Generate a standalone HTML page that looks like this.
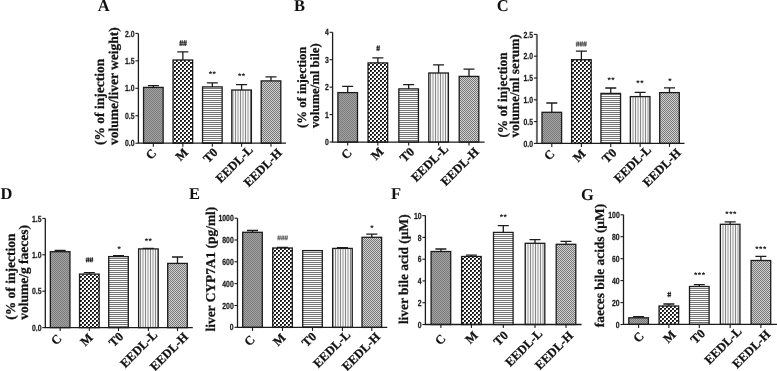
<!DOCTYPE html>
<html><head><meta charset="utf-8"><style>
html,body{margin:0;padding:0;background:#fff;width:777px;height:371px;overflow:hidden}
svg{display:block;filter:grayscale(1) blur(0.35px)}
text{text-rendering:geometricPrecision}
.let{font-family:"Liberation Serif", serif;font-weight:bold;font-size:16.5px;fill:#111}
.tk{font-family:"Liberation Sans", sans-serif;font-weight:bold;font-size:8.8px;fill:#1a1a1a;stroke:#1a1a1a;stroke-width:0.25px;text-anchor:end}
.an{font-family:"Liberation Sans", sans-serif;font-weight:bold;text-anchor:middle}
.hs{font-size:8.5px;stroke-width:0.3px}
.st{font-size:8.5px;letter-spacing:0.6px}
.xl{font-family:"Liberation Serif", serif;font-weight:bold;font-size:12.5px;fill:#111;stroke:#111;stroke-width:0.25px;text-anchor:end}
.yl{font-family:"Liberation Serif", serif;font-weight:bold;fill:#111;stroke:#111;stroke-width:0.25px}

</style></head><body>
<svg width="777" height="371" viewBox="0 0 777 371">
<defs>
<pattern id="pC" width="2" height="2" patternUnits="userSpaceOnUse"><rect width="2" height="2" fill="#a4a4a4"/><rect width="1" height="1" fill="#7a7a7a"/><rect x="1" y="1" width="1" height="1" fill="#7a7a7a"/></pattern>
<pattern id="pM" width="4" height="4" patternUnits="userSpaceOnUse"><rect width="4" height="4" fill="#fff"/><rect width="2" height="2" fill="#1a1a1a"/><rect x="2" y="2" width="2" height="2" fill="#1a1a1a"/><rect x="1" y="1" width="1" height="1" fill="#555"/><rect x="3" y="3" width="1" height="1" fill="#555"/></pattern>
<pattern id="pT" width="2" height="2" patternUnits="userSpaceOnUse"><rect width="2" height="2" fill="#fcfcfc"/><rect width="2" height="1" fill="#767676"/></pattern>
<pattern id="pL" width="5" height="2" patternUnits="userSpaceOnUse"><rect width="5" height="2" fill="#f4f4f4"/><rect width="1" height="2" fill="#888"/><rect x="2.5" width="1" height="2" fill="#989898"/></pattern>
<pattern id="pH" width="2" height="2" patternUnits="userSpaceOnUse"><rect width="2" height="2" fill="#d2d2d2"/><rect width="1" height="1" fill="#777"/><rect x="1" y="1" width="1" height="1" fill="#777"/></pattern>
</defs>

<text x="97.7" y="11.2" class="let">A</text>
<g class="bars"><rect x="143.55" y="87.4" width="19.6" height="55.8" fill="url(#pC)" stroke="#1c1c1c" stroke-width="1.3"/><path d="M153.35 87.4V85.7M147.85 85.7H158.85" stroke="#1c1c1c" stroke-width="1.3" fill="none"/><path d="M153.35 143.2V146.7" stroke="#1c1c1c" stroke-width="1.1"/><rect x="173.05" y="60" width="19.6" height="83.2" fill="url(#pM)" stroke="#1c1c1c" stroke-width="1.3"/><path d="M182.85 60V51.9M177.35 51.9H188.35" stroke="#1c1c1c" stroke-width="1.3" fill="none"/><path d="M182.85 143.2V146.7" stroke="#1c1c1c" stroke-width="1.1"/><rect x="202.55" y="86.9" width="19.6" height="56.3" fill="url(#pT)" stroke="#1c1c1c" stroke-width="1.3"/><path d="M212.35 86.9V82.9M206.85 82.9H217.85" stroke="#1c1c1c" stroke-width="1.3" fill="none"/><path d="M212.35 143.2V146.7" stroke="#1c1c1c" stroke-width="1.1"/><rect x="231.8" y="90" width="19.6" height="53.2" fill="url(#pL)" stroke="#1c1c1c" stroke-width="1.3"/><path d="M241.6 90V84.7M236.1 84.7H247.1" stroke="#1c1c1c" stroke-width="1.3" fill="none"/><path d="M241.6 143.2V146.7" stroke="#1c1c1c" stroke-width="1.1"/><rect x="261.2" y="80.9" width="19.6" height="62.3" fill="url(#pH)" stroke="#1c1c1c" stroke-width="1.3"/><path d="M271 80.9V76.8M265.5 76.8H276.5" stroke="#1c1c1c" stroke-width="1.3" fill="none"/><path d="M271 143.2V146.7" stroke="#1c1c1c" stroke-width="1.1"/><path d="M138.4 33.4V143.2H286" stroke="#1c1c1c" stroke-width="1.3" fill="none"/><path d="M135.4 33.4H138.4" stroke="#1c1c1c" stroke-width="1.1"/><path d="M135.4 60.85H138.4" stroke="#1c1c1c" stroke-width="1.1"/><path d="M135.4 88.3H138.4" stroke="#1c1c1c" stroke-width="1.1"/><path d="M135.4 115.75H138.4" stroke="#1c1c1c" stroke-width="1.1"/><path d="M135.4 143.2H138.4" stroke="#1c1c1c" stroke-width="1.1"/></g>
<g class="tkg"><text class="tk" transform="translate(134.6 36.55) scale(0.78 1)">2.0</text><text class="tk" transform="translate(134.6 64) scale(0.78 1)">1.5</text><text class="tk" transform="translate(134.6 91.45) scale(0.78 1)">1.0</text><text class="tk" transform="translate(134.6 118.9) scale(0.78 1)">0.5</text><text class="tk" transform="translate(134.6 146.35) scale(0.78 1)">0.0</text></g>
<g class="ang"><path class="hsp" d="M179.25 42.16H186.85M179.25 44.19H186.85M180.69 40.25L180.09 46.05M182.36 40.25L181.76 46.05M184.49 40.25L183.89 46.05M186.16 40.25L185.56 46.05" stroke="#1c1c1c" stroke-width="0.9" fill="none"/><text class="an st" fill="#1c1c1c" transform="translate(212.6 77.4) scale(1.0 1)">**</text><text class="an st" fill="#1c1c1c" transform="translate(241.8 78.9) scale(1.0 1)">**</text></g>
<text class="xl xC" transform="translate(157.1 153.9) rotate(-45)">C</text>
<text class="xl xM" transform="translate(188.9 153.1) rotate(-45)">M</text>
<text class="xl xT" transform="translate(218.5 153.1) rotate(-45)">T0</text>
<text class="xl xL" transform="translate(253.7 150.7) rotate(-45)">EEDL-L</text>
<text class="xl xH" transform="translate(282.7 153.7) rotate(-45)">EEDL-H</text>
<text class="yl" style="font-size:13.5px" transform="translate(104.4 145) rotate(-90)">(% of injection</text>
<text class="yl" style="font-size:13.5px" transform="translate(117.7 145) rotate(-90)">volume/liver weight)</text>
<text x="293.9" y="11.2" class="let">B</text>
<g class="bars"><rect x="337.9" y="92.6" width="19.6" height="49.5" fill="url(#pC)" stroke="#1c1c1c" stroke-width="1.3"/><path d="M347.7 92.6V86.4M342.2 86.4H353.2" stroke="#1c1c1c" stroke-width="1.3" fill="none"/><path d="M347.7 142.1V145.6" stroke="#1c1c1c" stroke-width="1.1"/><rect x="368.05" y="62.9" width="19.6" height="79.2" fill="url(#pM)" stroke="#1c1c1c" stroke-width="1.3"/><path d="M377.85 62.9V57.9M372.35 57.9H383.35" stroke="#1c1c1c" stroke-width="1.3" fill="none"/><path d="M377.85 142.1V145.6" stroke="#1c1c1c" stroke-width="1.1"/><rect x="398.85" y="88.9" width="19.6" height="53.2" fill="url(#pT)" stroke="#1c1c1c" stroke-width="1.3"/><path d="M408.65 88.9V84.6M403.15 84.6H414.15" stroke="#1c1c1c" stroke-width="1.3" fill="none"/><path d="M408.65 142.1V145.6" stroke="#1c1c1c" stroke-width="1.1"/><rect x="428.8" y="73" width="19.6" height="69.1" fill="url(#pL)" stroke="#1c1c1c" stroke-width="1.3"/><path d="M438.6 73V64.9M433.1 64.9H444.1" stroke="#1c1c1c" stroke-width="1.3" fill="none"/><path d="M438.6 142.1V145.6" stroke="#1c1c1c" stroke-width="1.1"/><rect x="459.2" y="76.4" width="19.6" height="65.7" fill="url(#pH)" stroke="#1c1c1c" stroke-width="1.3"/><path d="M469 76.4V69.1M463.5 69.1H474.5" stroke="#1c1c1c" stroke-width="1.3" fill="none"/><path d="M469 142.1V145.6" stroke="#1c1c1c" stroke-width="1.1"/><path d="M332.6 32.3V142.1H484.6" stroke="#1c1c1c" stroke-width="1.3" fill="none"/><path d="M329.6 32.3H332.6" stroke="#1c1c1c" stroke-width="1.1"/><path d="M329.6 59.7H332.6" stroke="#1c1c1c" stroke-width="1.1"/><path d="M329.6 87.15H332.6" stroke="#1c1c1c" stroke-width="1.1"/><path d="M329.6 114.6H332.6" stroke="#1c1c1c" stroke-width="1.1"/><path d="M329.6 142H332.6" stroke="#1c1c1c" stroke-width="1.1"/></g>
<g class="tkg"><text class="tk" transform="translate(328.8 35.45) scale(0.78 1)">4</text><text class="tk" transform="translate(328.8 62.85) scale(0.78 1)">3</text><text class="tk" transform="translate(328.8 90.3) scale(0.78 1)">2</text><text class="tk" transform="translate(328.8 117.75) scale(0.78 1)">1</text><text class="tk" transform="translate(328.8 145.15) scale(0.78 1)">0</text></g>
<g class="ang"><path class="hsp" d="M376.25 47.23H379.95M376.25 49.23H379.95M377.66 45.35L377.06 51.05M379.29 45.35L378.69 51.05" stroke="#1c1c1c" stroke-width="0.9" fill="none"/></g>
<text class="xl xC" transform="translate(352.7 153.5) rotate(-45)">C</text>
<text class="xl xM" transform="translate(384.3 152.5) rotate(-45)">M</text>
<text class="xl xT" transform="translate(415.1 152.5) rotate(-45)">T0</text>
<text class="xl xL" transform="translate(449.1 149.5) rotate(-45)">EEDL-L</text>
<text class="xl xH" transform="translate(479.7 152.5) rotate(-45)">EEDL-H</text>
<text class="yl" style="font-size:12.75px" transform="translate(306 128) rotate(-90)">(% of injection</text>
<text class="yl" style="font-size:12.75px" transform="translate(318.5 128) rotate(-90)">volume/ml bile)</text>
<text x="496.8" y="11.2" class="let">C</text>
<g class="bars"><rect x="542" y="112.3" width="19.6" height="31.1" fill="url(#pC)" stroke="#1c1c1c" stroke-width="1.3"/><path d="M551.8 112.3V103M546.3 103H557.3" stroke="#1c1c1c" stroke-width="1.3" fill="none"/><path d="M551.8 143.4V146.9" stroke="#1c1c1c" stroke-width="1.1"/><rect x="571.6" y="59.7" width="19.6" height="83.7" fill="url(#pM)" stroke="#1c1c1c" stroke-width="1.3"/><path d="M581.4 59.7V51.1M575.9 51.1H586.9" stroke="#1c1c1c" stroke-width="1.3" fill="none"/><path d="M581.4 143.4V146.9" stroke="#1c1c1c" stroke-width="1.1"/><rect x="600.95" y="93.4" width="19.6" height="50" fill="url(#pT)" stroke="#1c1c1c" stroke-width="1.3"/><path d="M610.75 93.4V88M605.25 88H616.25" stroke="#1c1c1c" stroke-width="1.3" fill="none"/><path d="M610.75 143.4V146.9" stroke="#1c1c1c" stroke-width="1.1"/><rect x="630.35" y="96.6" width="19.6" height="46.8" fill="url(#pL)" stroke="#1c1c1c" stroke-width="1.3"/><path d="M640.15 96.6V92.3M634.65 92.3H645.65" stroke="#1c1c1c" stroke-width="1.3" fill="none"/><path d="M640.15 143.4V146.9" stroke="#1c1c1c" stroke-width="1.1"/><rect x="659.7" y="92.6" width="19.6" height="50.8" fill="url(#pH)" stroke="#1c1c1c" stroke-width="1.3"/><path d="M669.5 92.6V87.9M664 87.9H675" stroke="#1c1c1c" stroke-width="1.3" fill="none"/><path d="M669.5 143.4V146.9" stroke="#1c1c1c" stroke-width="1.1"/><path d="M536.9 34.4V143.4" stroke="#666" stroke-width="2.0" fill="none"/><path d="M536.4 143.4H684.5" stroke="#1c1c1c" stroke-width="1.3" fill="none"/><path d="M533.9 34.4H536.9" stroke="#1c1c1c" stroke-width="1.1"/><path d="M533.9 56.2H536.9" stroke="#1c1c1c" stroke-width="1.1"/><path d="M533.9 78H536.9" stroke="#1c1c1c" stroke-width="1.1"/><path d="M533.9 99.8H536.9" stroke="#1c1c1c" stroke-width="1.1"/><path d="M533.9 121.6H536.9" stroke="#1c1c1c" stroke-width="1.1"/><path d="M533.9 143.4H536.9" stroke="#1c1c1c" stroke-width="1.1"/></g>
<g class="tkg"><text class="tk" transform="translate(533.1 37.55) scale(0.78 1)">2.5</text><text class="tk" transform="translate(533.1 59.35) scale(0.78 1)">2.0</text><text class="tk" transform="translate(533.1 81.15) scale(0.78 1)">1.5</text><text class="tk" transform="translate(533.1 102.95) scale(0.78 1)">1.0</text><text class="tk" transform="translate(533.1 124.75) scale(0.78 1)">0.5</text><text class="tk" transform="translate(533.1 146.55) scale(0.78 1)">0.0</text></g>
<g class="ang"><path class="hsp" d="M575.75 43.13H586.75M575.75 44.92H586.75M577.15 41.45L576.55 46.55M578.76 41.45L578.16 46.55M580.82 41.45L580.22 46.55M582.43 41.45L581.83 46.55M584.48 41.45L583.88 46.55M586.1 41.45L585.5 46.55" stroke="#444" stroke-width="0.9" fill="none"/><text class="an st" fill="#1c1c1c" transform="translate(611.3 83.1) scale(1.0 1)">**</text><text class="an st" fill="#1c1c1c" transform="translate(640.25 85.9) scale(1.0 1)">**</text><text class="an st" fill="#1c1c1c" transform="translate(670.1 83.5) scale(1.0 1)">*</text></g>
<text class="xl xC" transform="translate(555.5 154.5) rotate(-45)">C</text>
<text class="xl xM" transform="translate(586.3 154.5) rotate(-45)">M</text>
<text class="xl xT" transform="translate(617.3 153.5) rotate(-45)">T0</text>
<text class="xl xL" transform="translate(651.9 150.5) rotate(-45)">EEDL-L</text>
<text class="xl xH" transform="translate(681.7 153.5) rotate(-45)">EEDL-H</text>
<text class="yl" style="font-size:13.35px" transform="translate(507.1 137.6) rotate(-90)">(% of injection</text>
<text class="yl" style="font-size:13.35px" transform="translate(519.3 137.6) rotate(-90)">volume/ml serum)</text>
<text x="0.5" y="199.1" class="let">D</text>
<g class="bars"><rect x="50.35" y="251.7" width="19.6" height="75.9" fill="url(#pC)" stroke="#1c1c1c" stroke-width="1.3"/><path d="M60.15 251.7V250.5M54.65 250.5H65.65" stroke="#1c1c1c" stroke-width="1.3" fill="none"/><path d="M60.15 327.6V331.1" stroke="#1c1c1c" stroke-width="1.1"/><rect x="79.55" y="274.1" width="19.6" height="53.5" fill="url(#pM)" stroke="#1c1c1c" stroke-width="1.3"/><path d="M89.35 274.1V272.7M83.85 272.7H94.85" stroke="#1c1c1c" stroke-width="1.3" fill="none"/><path d="M89.35 327.6V331.1" stroke="#1c1c1c" stroke-width="1.1"/><rect x="108.7" y="256.6" width="19.6" height="71" fill="url(#pT)" stroke="#1c1c1c" stroke-width="1.3"/><path d="M118.5 256.6V255.6M113 255.6H124" stroke="#1c1c1c" stroke-width="1.3" fill="none"/><path d="M118.5 327.6V331.1" stroke="#1c1c1c" stroke-width="1.1"/><rect x="138.6" y="248.9" width="19.6" height="78.7" fill="url(#pL)" stroke="#1c1c1c" stroke-width="1.3"/><path d="M148.4 248.9V248.4M142.9 248.4H153.9" stroke="#1c1c1c" stroke-width="1.3" fill="none"/><path d="M148.4 327.6V331.1" stroke="#1c1c1c" stroke-width="1.1"/><rect x="167.7" y="263.4" width="19.6" height="64.2" fill="url(#pH)" stroke="#1c1c1c" stroke-width="1.3"/><path d="M177.5 263.4V257M172 257H183" stroke="#1c1c1c" stroke-width="1.3" fill="none"/><path d="M177.5 327.6V331.1" stroke="#1c1c1c" stroke-width="1.1"/><path d="M45.3 218.4V327.6H192.8" stroke="#1c1c1c" stroke-width="1.3" fill="none"/><path d="M42.3 218.4H45.3" stroke="#1c1c1c" stroke-width="1.1"/><path d="M42.3 254.8H45.3" stroke="#1c1c1c" stroke-width="1.1"/><path d="M42.3 291.2H45.3" stroke="#1c1c1c" stroke-width="1.1"/><path d="M42.3 327.6H45.3" stroke="#1c1c1c" stroke-width="1.1"/></g>
<g class="tkg"><text class="tk" transform="translate(41.5 221.55) scale(0.78 1)">1.5</text><text class="tk" transform="translate(41.5 257.95) scale(0.78 1)">1.0</text><text class="tk" transform="translate(41.5 294.35) scale(0.78 1)">0.5</text><text class="tk" transform="translate(41.5 330.75) scale(0.78 1)">0.0</text></g>
<g class="ang"><path class="hsp" d="M85.65 259H93.25M85.65 260.75H93.25M87.09 257.35L86.49 262.35M88.76 257.35L88.16 262.35M90.89 257.35L90.29 262.35M92.56 257.35L91.96 262.35" stroke="#1c1c1c" stroke-width="0.9" fill="none"/><text class="an st" fill="#1c1c1c" transform="translate(119.45 251.7) scale(1.0 1)">*</text><text class="an st" fill="#1c1c1c" transform="translate(148.6 244) scale(1.0 1)">**</text></g>
<text class="xl xC" transform="translate(62.3 339.3) rotate(-45)">C</text>
<text class="xl xM" transform="translate(93.5 338.3) rotate(-45)">M</text>
<text class="xl xT" transform="translate(124.1 337.3) rotate(-45)">T0</text>
<text class="xl xL" transform="translate(158.1 335.5) rotate(-45)">EEDL-L</text>
<text class="xl xH" transform="translate(188.9 337.5) rotate(-45)">EEDL-H</text>
<text class="yl" style="font-size:13.5px" transform="translate(14.7 319.8) rotate(-90)">(% of injection</text>
<text class="yl" style="font-size:13.5px" transform="translate(27.8 319.8) rotate(-90)">volume/g faeces)</text>
<text x="189" y="199.1" class="let">E</text>
<g class="bars"><rect x="242.7" y="232.3" width="19.6" height="95.1" fill="url(#pC)" stroke="#1c1c1c" stroke-width="1.3"/><path d="M252.5 232.3V230.5M247 230.5H258" stroke="#1c1c1c" stroke-width="1.3" fill="none"/><path d="M252.5 327.4V330.9" stroke="#1c1c1c" stroke-width="1.1"/><rect x="272.7" y="248" width="19.6" height="79.4" fill="url(#pM)" stroke="#1c1c1c" stroke-width="1.3"/><path d="M282.5 248V247.3M277 247.3H288" stroke="#1c1c1c" stroke-width="1.3" fill="none"/><path d="M282.5 327.4V330.9" stroke="#1c1c1c" stroke-width="1.1"/><rect x="302.7" y="250.6" width="19.6" height="76.8" fill="url(#pT)" stroke="#1c1c1c" stroke-width="1.3"/><path d="M312.5 327.4V330.9" stroke="#1c1c1c" stroke-width="1.1"/><rect x="332.65" y="248.4" width="19.6" height="79" fill="url(#pL)" stroke="#1c1c1c" stroke-width="1.3"/><path d="M342.45 248.4V247.6M336.95 247.6H347.95" stroke="#1c1c1c" stroke-width="1.3" fill="none"/><path d="M342.45 327.4V330.9" stroke="#1c1c1c" stroke-width="1.1"/><rect x="362" y="237.3" width="19.6" height="90.1" fill="url(#pH)" stroke="#1c1c1c" stroke-width="1.3"/><path d="M371.8 237.3V234.1M366.3 234.1H377.3" stroke="#1c1c1c" stroke-width="1.3" fill="none"/><path d="M371.8 327.4V330.9" stroke="#1c1c1c" stroke-width="1.1"/><path d="M237.5 218.3V327.4H387.3" stroke="#1c1c1c" stroke-width="1.3" fill="none"/><path d="M234.5 218.2H237.5" stroke="#1c1c1c" stroke-width="1.1"/><path d="M234.5 240H237.5" stroke="#1c1c1c" stroke-width="1.1"/><path d="M234.5 261.8H237.5" stroke="#1c1c1c" stroke-width="1.1"/><path d="M234.5 283.6H237.5" stroke="#1c1c1c" stroke-width="1.1"/><path d="M234.5 305.5H237.5" stroke="#1c1c1c" stroke-width="1.1"/><path d="M234.5 327.3H237.5" stroke="#1c1c1c" stroke-width="1.1"/></g>
<g class="tkg"><text class="tk" transform="translate(233.7 221.35) scale(0.78 1)">1000</text><text class="tk" transform="translate(233.7 243.15) scale(0.78 1)">800</text><text class="tk" transform="translate(233.7 264.95) scale(0.78 1)">600</text><text class="tk" transform="translate(233.7 286.75) scale(0.78 1)">400</text><text class="tk" transform="translate(233.7 308.65) scale(0.78 1)">200</text><text class="tk" transform="translate(233.7 330.45) scale(0.78 1)">0</text></g>
<g class="ang"><path class="hsp" d="M277.25 237.03H287.95M277.25 238.71H287.95M278.62 235.45L278.02 240.25M280.19 235.45L279.59 240.25M282.19 235.45L281.59 240.25M283.76 235.45L283.16 240.25M285.75 235.45L285.15 240.25M287.32 235.45L286.72 240.25" stroke="#666" stroke-width="0.9" fill="none"/><text class="an st" fill="#1c1c1c" transform="translate(372.2 230.9) scale(1.0 1)">*</text></g>
<text class="xl xC" transform="translate(255.7 340.3) rotate(-45)">C</text>
<text class="xl xM" transform="translate(286.3 338.3) rotate(-45)">M</text>
<text class="xl xT" transform="translate(317.1 337.3) rotate(-45)">T0</text>
<text class="xl xL" transform="translate(351.1 335.5) rotate(-45)">EEDL-L</text>
<text class="xl xH" transform="translate(380.9 337.5) rotate(-45)">EEDL-H</text>
<text class="yl" style="font-size:13.4px" transform="translate(214.7 331.5) rotate(-90)">liver CYP7A1 (pg/ml)</text>
<text x="391.1" y="199.3" class="let">F</text>
<g class="bars"><rect x="431.1" y="251.5" width="19.6" height="73" fill="url(#pC)" stroke="#1c1c1c" stroke-width="1.3"/><path d="M440.9 251.5V249M435.4 249H446.4" stroke="#1c1c1c" stroke-width="1.3" fill="none"/><path d="M440.9 324.5V328" stroke="#1c1c1c" stroke-width="1.1"/><rect x="461.6" y="256.5" width="19.6" height="68" fill="url(#pM)" stroke="#1c1c1c" stroke-width="1.3"/><path d="M471.4 256.5V255.1M465.9 255.1H476.9" stroke="#1c1c1c" stroke-width="1.3" fill="none"/><path d="M471.4 324.5V328" stroke="#1c1c1c" stroke-width="1.1"/><rect x="493.5" y="232.4" width="19.6" height="92.1" fill="url(#pT)" stroke="#1c1c1c" stroke-width="1.3"/><path d="M503.3 232.4V225.7M497.8 225.7H508.8" stroke="#1c1c1c" stroke-width="1.3" fill="none"/><path d="M503.3 324.5V328" stroke="#1c1c1c" stroke-width="1.1"/><rect x="525.2" y="243.3" width="19.6" height="81.2" fill="url(#pL)" stroke="#1c1c1c" stroke-width="1.3"/><path d="M535 243.3V239.6M529.5 239.6H540.5" stroke="#1c1c1c" stroke-width="1.3" fill="none"/><path d="M535 324.5V328" stroke="#1c1c1c" stroke-width="1.1"/><rect x="556.2" y="244.3" width="19.6" height="80.2" fill="url(#pH)" stroke="#1c1c1c" stroke-width="1.3"/><path d="M566 244.3V241.4M560.5 241.4H571.5" stroke="#1c1c1c" stroke-width="1.3" fill="none"/><path d="M566 324.5V328" stroke="#1c1c1c" stroke-width="1.1"/><path d="M425.4 215.6V324.5H581.6" stroke="#1c1c1c" stroke-width="1.3" fill="none"/><path d="M422.4 215.6H425.4" stroke="#1c1c1c" stroke-width="1.1"/><path d="M422.4 237.4H425.4" stroke="#1c1c1c" stroke-width="1.1"/><path d="M422.4 259.2H425.4" stroke="#1c1c1c" stroke-width="1.1"/><path d="M422.4 280.9H425.4" stroke="#1c1c1c" stroke-width="1.1"/><path d="M422.4 302.7H425.4" stroke="#1c1c1c" stroke-width="1.1"/><path d="M422.4 324.5H425.4" stroke="#1c1c1c" stroke-width="1.1"/></g>
<g class="tkg"><text class="tk" transform="translate(421.6 218.75) scale(0.78 1)">10</text><text class="tk" transform="translate(421.6 240.55) scale(0.78 1)">8</text><text class="tk" transform="translate(421.6 262.35) scale(0.78 1)">6</text><text class="tk" transform="translate(421.6 284.05) scale(0.78 1)">4</text><text class="tk" transform="translate(421.6 305.85) scale(0.78 1)">2</text><text class="tk" transform="translate(421.6 327.65) scale(0.78 1)">0</text></g>
<g class="ang"><text class="an st" fill="#1c1c1c" transform="translate(503.6 220) scale(1.0 1)">**</text></g>
<text class="xl xC" transform="translate(446.3 339.3) rotate(-45)">C</text>
<text class="xl xM" transform="translate(478.5 336.1) rotate(-45)">M</text>
<text class="xl xT" transform="translate(508.9 336.1) rotate(-45)">T0</text>
<text class="xl xL" transform="translate(543.1 334.3) rotate(-45)">EEDL-L</text>
<text class="xl xH" transform="translate(573.9 336.3) rotate(-45)">EEDL-H</text>
<text class="yl" style="font-size:13.4px" transform="translate(408.3 324.1) rotate(-90)">liver bile acid (µM)</text>
<text x="581" y="199.5" class="let">G</text>
<g class="bars"><rect x="628.8" y="317.8" width="19.6" height="6.6" fill="url(#pC)" stroke="#1c1c1c" stroke-width="1.3"/><path d="M638.6 317.8V316.6M633.1 316.6H644.1" stroke="#1c1c1c" stroke-width="1.3" fill="none"/><path d="M638.6 324.4V327.9" stroke="#1c1c1c" stroke-width="1.1"/><rect x="659.05" y="306" width="19.6" height="18.4" fill="url(#pM)" stroke="#1c1c1c" stroke-width="1.3"/><path d="M668.85 306V304M663.35 304H674.35" stroke="#1c1c1c" stroke-width="1.3" fill="none"/><path d="M668.85 324.4V327.9" stroke="#1c1c1c" stroke-width="1.1"/><rect x="689.5" y="286.5" width="19.6" height="37.9" fill="url(#pT)" stroke="#1c1c1c" stroke-width="1.3"/><path d="M699.3 286.5V284.6M693.8 284.6H704.8" stroke="#1c1c1c" stroke-width="1.3" fill="none"/><path d="M699.3 324.4V327.9" stroke="#1c1c1c" stroke-width="1.1"/><rect x="720.35" y="224.3" width="19.6" height="100.1" fill="url(#pL)" stroke="#1c1c1c" stroke-width="1.3"/><path d="M730.15 224.3V221.9M724.65 221.9H735.65" stroke="#1c1c1c" stroke-width="1.3" fill="none"/><path d="M730.15 324.4V327.9" stroke="#1c1c1c" stroke-width="1.1"/><rect x="751.1" y="260.5" width="19.6" height="63.9" fill="url(#pH)" stroke="#1c1c1c" stroke-width="1.3"/><path d="M760.9 260.5V256.3M755.4 256.3H766.4" stroke="#1c1c1c" stroke-width="1.3" fill="none"/><path d="M760.9 324.4V327.9" stroke="#1c1c1c" stroke-width="1.1"/><path d="M623.5 214.8V324.4H777.5" stroke="#1c1c1c" stroke-width="1.3" fill="none"/><path d="M620.5 214.8H623.5" stroke="#1c1c1c" stroke-width="1.1"/><path d="M620.5 236.7H623.5" stroke="#1c1c1c" stroke-width="1.1"/><path d="M620.5 258.7H623.5" stroke="#1c1c1c" stroke-width="1.1"/><path d="M620.5 280.6H623.5" stroke="#1c1c1c" stroke-width="1.1"/><path d="M620.5 302.6H623.5" stroke="#1c1c1c" stroke-width="1.1"/><path d="M620.5 324.5H623.5" stroke="#1c1c1c" stroke-width="1.1"/></g>
<g class="tkg"><text class="tk" transform="translate(619.7 217.95) scale(0.78 1)">100</text><text class="tk" transform="translate(619.7 239.85) scale(0.78 1)">80</text><text class="tk" transform="translate(619.7 261.85) scale(0.78 1)">60</text><text class="tk" transform="translate(619.7 283.75) scale(0.78 1)">40</text><text class="tk" transform="translate(619.7 305.75) scale(0.78 1)">20</text><text class="tk" transform="translate(619.7 327.65) scale(0.78 1)">0</text></g>
<g class="ang"><path class="hsp" d="M667.35 293.56H671.15M667.35 295.49H671.15M668.79 291.75L668.19 297.25M670.46 291.75L669.86 297.25" stroke="#1c1c1c" stroke-width="0.9" fill="none"/><text class="an st" fill="#1c1c1c" transform="translate(699.8 277.6) scale(1.0 1)">***</text><text class="an st" fill="#1c1c1c" transform="translate(731.1 216.9) scale(1.0 1)">***</text><text class="an st" fill="#1c1c1c" transform="translate(761 252.3) scale(1.0 1)">***</text></g>
<text class="xl xC" transform="translate(644.7 336.9) rotate(-45)">C</text>
<text class="xl xM" transform="translate(676.5 335.5) rotate(-45)">M</text>
<text class="xl xT" transform="translate(705.9 334.3) rotate(-45)">T0</text>
<text class="xl xL" transform="translate(742.3 332.1) rotate(-45)">EEDL-L</text>
<text class="xl xH" transform="translate(771.1 335.1) rotate(-45)">EEDL-H</text>
<text class="yl" style="font-size:13.4px" transform="translate(603.9 327.2) rotate(-90)">faeces bile acids (µM)</text>
</svg>
</body></html>
